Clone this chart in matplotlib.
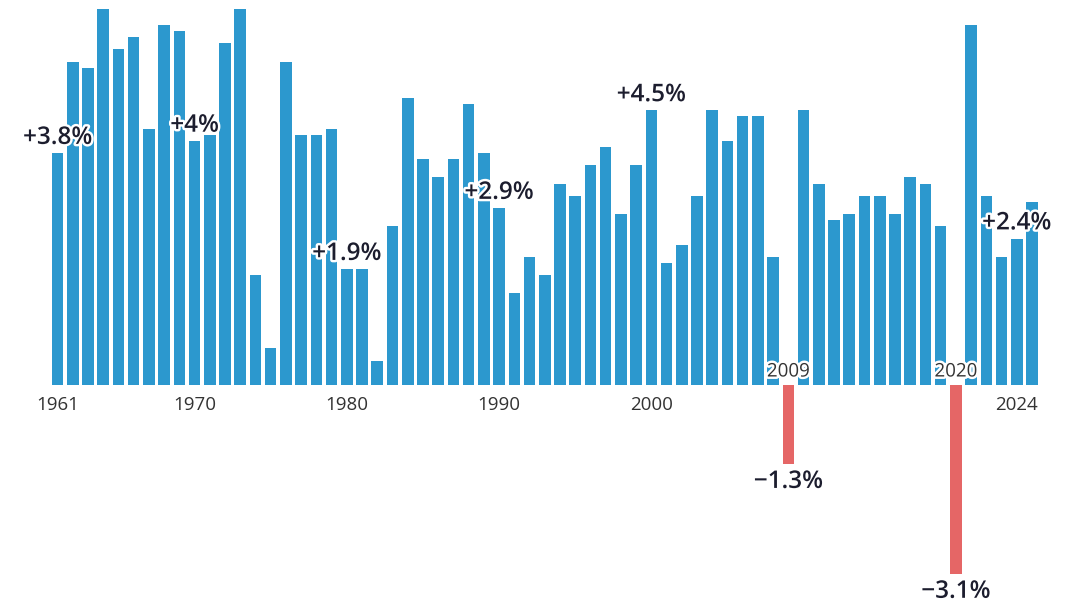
import matplotlib
matplotlib.use("Agg")
import matplotlib.pyplot as plt
import matplotlib.patheffects as pe
import numpy as np

plt.rcParams["font.family"] = ["Open Sans", "DejaVu Sans"]

# Annual world GDP growth, %
years = np.arange(1961, 2026)
growth = [
    3.8, 5.3, 5.2, 6.6, 5.5, 5.7, 4.2, 5.9, 5.8, 4.0,   # 1961-1970
    4.1, 5.6, 6.5, 1.8, 0.6, 5.3, 4.1, 4.1, 4.2, 1.9,   # 1971-1980
    1.9, 0.4, 2.6, 4.7, 3.7, 3.4, 3.7, 4.6, 3.8, 2.9,   # 1981-1990
    1.5, 2.1, 1.8, 3.3, 3.1, 3.6, 3.9, 2.8, 3.6, 4.5,   # 1991-2000
    2.0, 2.3, 3.1, 4.5, 4.0, 4.4, 4.4, 2.1, -1.3, 4.5,  # 2001-2010
    3.3, 2.7, 2.8, 3.1, 3.1, 2.8, 3.4, 3.3, 2.6, -3.1,  # 2011-2020
    5.9, 3.1, 2.1, 2.4, 3.0,                            # 2021-2025
]
labelled_years = [1961, 1970, 1980, 1990, 2000, 2009, 2020, 2024]
tick_years_below = [1961, 1970, 1980, 1990, 2000, 2024]
tick_years_above = [2009, 2020]

BLUE = "#2c98ce"
RED = "#e56666"
INK = "#1c1d2e"
GREY = "#333333"

value_of = dict(zip(years, growth))


def fmt_pct(v):
    s = f"{abs(v):.1f}".rstrip("0").rstrip(".")
    return ("+" if v >= 0 else "\u2212") + s + "%"


fig = plt.figure(figsize=(10.74, 6.03), dpi=100)
ax = fig.add_axes([0, 0, 1, 594 / 603])
ax.set_xlim(1957.22, 2027.76)
ax.set_ylim(-3.57, 6.16)
ax.axis("off")

colors = [BLUE if v >= 0 else RED for v in growth]
ax.bar(years, growth, width=0.76, color=colors, zorder=1)

halo = [pe.withStroke(linewidth=3.5, foreground="white")]

for y in labelled_years:
    v = value_of[y]
    # positive labels sit just above the bar, negative ones just below
    ypos = v + 0.15 if v >= 0 else v - 0.385
    ax.text(y, ypos, fmt_pct(v), ha="center", va="baseline",
            fontsize=17.5, fontweight="semibold", color=INK,
            path_effects=halo, zorder=3)

for y in tick_years_below:
    ax.text(y, -0.41, str(y), ha="center", va="baseline",
            fontsize=13.5, color=GREY, zorder=3)

for y in tick_years_above:
    ax.text(y, 0.14, str(y), ha="center", va="baseline",
            fontsize=13.5, color=GREY, path_effects=halo, zorder=3)

fig.savefig("out.png", dpi=100, facecolor="white")
